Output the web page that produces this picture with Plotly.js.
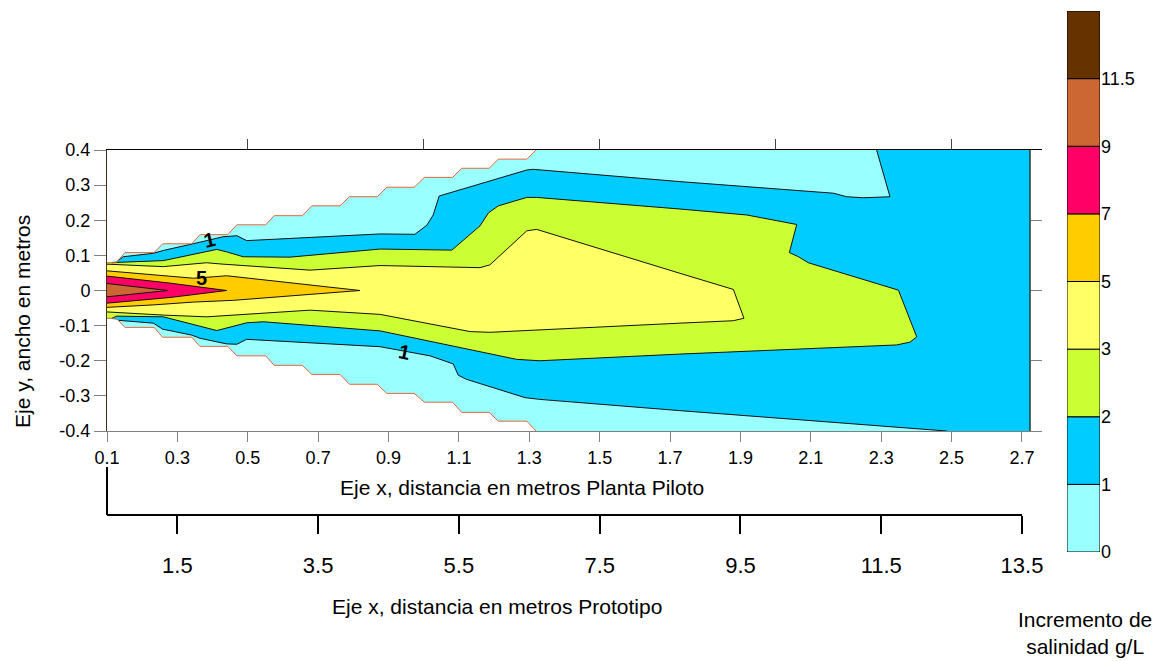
<!DOCTYPE html>
<html>
<head>
<meta charset="utf-8">
<script src="https://cdn.plot.ly/plotly-3.0.1.min.js"></script>
<style>html,body{margin:0;padding:0;background:#fff;}#chart{width:1162px;height:661px;}</style>
</head>
<body>
<div id="chart"></div>
<script>
// ---------------- DATA ----------------
// stair-stepped boundary of the computed domain
const stairX = [0.1,0.126,0.151,0.234,0.258,0.341,0.364,0.443,0.469,0.551,0.575,0.655,0.682,0.762,0.789,0.868,0.895,0.973,1.002,1.082,1.108,1.186,1.212,1.293,1.319];
const stairUpperY = [0.079,0.079,0.108,0.108,0.133,0.133,0.159,0.159,0.187,0.187,0.213,0.213,0.241,0.241,0.267,0.267,0.294,0.294,0.322,0.322,0.348,0.348,0.374,0.374,0.4];
const stairLowerY = [-0.079,-0.079,-0.105,-0.105,-0.133,-0.133,-0.159,-0.159,-0.186,-0.186,-0.213,-0.213,-0.239,-0.239,-0.267,-0.267,-0.293,-0.293,-0.318,-0.318,-0.347,-0.347,-0.372,-0.372,-0.4];
const domainRightX = 2.723;
const domainTopY = 0.4;
const domainBottomY = -0.4;

// contour 1 g/L (upper branch ends on the top edge, lower branch on the bottom edge)
const c1UpperX = [0.130,0.146,0.232,0.260,0.345,0.393,0.430,0.469,0.497,0.876,0.975,1.009,1.027,1.044,1.293,1.311,1.728,2.164,2.202,2.249,2.325,2.287];
const c1UpperY = [0.084,0.096,0.106,0.114,0.133,0.145,0.153,0.156,0.142,0.161,0.160,0.186,0.215,0.269,0.343,0.345,0.310,0.277,0.267,0.264,0.267,0.4];
const c1LowerX = [0.134,0.232,0.258,0.341,0.364,0.440,0.469,0.497,0.876,1.018,1.084,1.098,1.122,1.288,1.330,1.728,2.486];
const c1LowerY = [-0.085,-0.093,-0.110,-0.127,-0.136,-0.152,-0.153,-0.139,-0.160,-0.186,-0.209,-0.241,-0.253,-0.305,-0.310,-0.342,-0.4];

// contour 2 g/L
const c2X = [0.114,0.128,0.260,0.336,0.412,0.440,0.487,0.620,0.876,1.080,1.160,1.184,1.212,1.293,1.321,1.728,1.918,2.060,2.039,2.065,2.093,2.349,2.401,2.382,2.344,1.728,1.330,1.264,0.876,0.544,0.497,0.412,0.260,0.128,0.114];
const c2Y = [0.079,0.080,0.085,0.101,0.117,0.110,0.096,0.095,0.118,0.115,0.184,0.221,0.241,0.265,0.265,0.232,0.215,0.188,0.108,0.096,0.079,0.001,-0.132,-0.147,-0.155,-0.181,-0.200,-0.196,-0.115,-0.089,-0.092,-0.114,-0.075,-0.073,-0.079];

// contour 3 g/L
const c3X = [0.1,0.260,0.383,0.430,0.677,0.876,1.160,1.188,1.293,1.321,1.728,1.880,1.910,1.880,1.728,1.188,1.132,0.876,0.677,0.452,0.383,0.260,0.1];
const c3Y = [0.075,0.068,0.079,0.075,0.058,0.071,0.065,0.073,0.170,0.174,0.049,0.003,-0.079,-0.086,-0.093,-0.119,-0.117,-0.068,-0.056,-0.070,-0.075,-0.070,-0.061];

// contour 5 g/L
const c5X = [0.1,0.232,0.345,0.402,0.440,0.819,0.459,0.345,0.232,0.1];
const c5Y = [0.056,0.044,0.035,0.039,0.042,0.0,-0.028,-0.033,-0.041,-0.048];

// contour 7 g/L
const c7X = [0.1,0.279,0.440,0.279,0.1];
const c7Y = [0.041,0.021,0.0,-0.020,-0.036];

// contour 9 g/L
const c9X = [0.1,0.273,0.1];
const c9Y = [0.020,0.0,-0.018];

// contour labels
const contourLabels = [
  {text:'1', x:0.390, y:0.144, angle:-14},
  {text:'5', x:0.369, y:0.037, angle:0},
  {text:'1', x:0.944, y:-0.174, angle:12}
];

// colour scale levels
const levelLabels = ['0','1','2','3','5','7','9','11.5'];
const levelColors = ['#99FFFF','#00CCFF','#CCFF33','#FFFF66','#FFCC00','#FF0066','#CC6633','#663300'];

// axes ticks
const xTickVals = [0.1,0.3,0.5,0.7,0.9,1.1,1.3,1.5,1.7,1.9,2.1,2.3,2.5,2.7];
const xTickText = ['0.1','0.3','0.5','0.7','0.9','1.1','1.3','1.5','1.7','1.9','2.1','2.3','2.5','2.7'];
const yTickVals = [0.4,0.3,0.2,0.1,0,-0.1,-0.2,-0.3,-0.4];
const yTickText = ['0.4','0.3','0.2','0.1','0','-0.1','-0.2','-0.3','-0.4'];
const topTickVals = [0.5,1.0,1.5,2.0,2.5];
const rightTickVals = [-0.4,-0.2,0,0.2,0.4];
const protoTickVals = [1.5,3.5,5.5,7.5,9.5,11.5,13.5];
const protoTickText = ['1.5','3.5','5.5','7.5','9.5','11.5','13.5'];
const xRange = [0.1, 2.757];
const protoRange = [0.5, 13.5];

// ---------------- BUILD ----------------
const rev = a => a.slice().reverse();
const leftX = stairX[0];
const fillTrace = (xs, ys, color) => ({
  type:'scatter', mode:'lines', x:xs, y:ys, fill:'toself', fillcolor:color,
  line:{width:0, color:color}, hoverinfo:'skip', xaxis:'x', yaxis:'y'
});
const lineTrace = (xs, ys, color, w) => ({
  type:'scatter', mode:'lines', x:xs, y:ys, line:{width:w||1, color:color||'#111'},
  hoverinfo:'skip', xaxis:'x', yaxis:'y'
});

// domain (> 0)
const domX = stairX.concat([domainRightX, domainRightX], rev(stairX));
const domY = stairUpperY.concat([domainTopY, domainBottomY], rev(stairLowerY));
// > 1
const r1X = c1UpperX.concat([domainRightX, domainRightX], rev(c1LowerX), [leftX, leftX]);
const r1Y = c1UpperY.concat([domainTopY, domainBottomY], rev(c1LowerY), [stairLowerY[0], stairUpperY[0]]);
// > 2
const r2X = c2X.concat([leftX, leftX]);
const r2Y = c2Y.concat([stairLowerY[0], stairUpperY[0]]);

const traces = [
  fillTrace(domX, domY, levelColors[0]),
  fillTrace(r1X, r1Y, levelColors[1]),
  fillTrace(r2X, r2Y, levelColors[2]),
  fillTrace(c3X, c3Y, levelColors[3]),
  fillTrace(c5X, c5Y, levelColors[4]),
  fillTrace(c7X, c7Y, levelColors[5]),
  fillTrace(c9X, c9Y, levelColors[6]),
  lineTrace(c1UpperX, c1UpperY),
  lineTrace(c1LowerX, c1LowerY),
  lineTrace(c2X, c2Y),
  lineTrace(c3X, c3Y),
  lineTrace(c5X, c5Y),
  lineTrace(c7X, c7Y),
  lineTrace(c9X, c9Y),
  lineTrace(stairX, stairUpperY, '#E8663A', 1),
  lineTrace(stairX, stairLowerY, '#E8663A', 1),
  lineTrace([domainRightX, domainRightX], [domainTopY, domainBottomY], '#111', 1.2),
  // invisible carriers for the extra axes
  {type:'scatter', mode:'markers', x:protoTickVals, y:protoTickVals.map(()=>0), xaxis:'x2', yaxis:'y',
   marker:{opacity:0}, hoverinfo:'skip'},
  {type:'scatter', mode:'markers', x:topTickVals, y:topTickVals.map(()=>0), xaxis:'x4', yaxis:'y4',
   marker:{opacity:0}, hoverinfo:'skip'},
  // colour bar
  {type:'bar', x:levelLabels.map(()=>0), y:levelLabels.map(()=>1), base:levelLabels.map((_,i)=>i),
   width:1, marker:{color:levelColors, line:{color:'#000', width:1}}, xaxis:'x3', yaxis:'y3', hoverinfo:'skip'}
];

// pixel helpers for layout positions (plot area: x 107..1112, y 10..561)
const PL=107, PW=1005, PT=10, PH=551;
const px = v => (v-PL)/PW;
const py = v => (PT+PH-v)/PH;

const FONT = 'Liberation Sans, Arial, sans-serif';

const ann = (x, y, text, extra) => Object.assign({
  xref:'paper', yref:'paper', x:px(x), y:py(y), text:text, showarrow:false,
  xanchor:'center', yanchor:'middle', font:{family:FONT, size:21, color:'#000'}
}, extra||{});

const annotations = [
  ann(522, 487, 'Eje x, distancia en metros Planta Piloto'),
  ann(496.5, 606, 'Eje x, distancia en metros Prototipo'),
  ann(22, 322, 'Eje y, ancho en metros', {textangle:-90}),
  ann(1085, 633, 'Incremento de<br>salinidad g/L', {align:'center'})
].concat(contourLabels.map(l => ({
  xref:'x', yref:'y', x:l.x, y:l.y, text:'<b>'+l.text+'</b>', textangle:l.angle, showarrow:false,
  xanchor:'center', yanchor:'middle', font:{family:FONT, size:20, color:'#000'}
})));

const layout = {
  width:1162, height:661,
  margin:{l:PL, r:1162-PL-PW, t:PT, b:661-PT-PH, pad:0},
  paper_bgcolor:'#fff', plot_bgcolor:'rgba(0,0,0,0)',
  showlegend:false, hovermode:false,
  font:{family:FONT, size:18, color:'#000'},
  xaxis:{domain:[0, px(1042)], range:xRange, anchor:'y', tickvals:xTickVals, ticktext:xTickText,
    ticks:'outside', ticklen:10, tickcolor:'#808080', showline:true, linecolor:'#808080', linewidth:1,
    showgrid:false, zeroline:false, tickfont:{family:FONT, size:18}},
  yaxis:{domain:[py(431), py(150)], range:[-0.4,0.4], anchor:'x', tickvals:yTickVals, ticktext:yTickText,
    ticks:'outside', ticklen:12, tickcolor:'#808080', showline:true, linecolor:'#4a2a20', linewidth:1,
    showgrid:false, zeroline:false, tickfont:{family:FONT, size:18}},
  xaxis4:{overlaying:'x', side:'top', anchor:'y', range:xRange, tickvals:topTickVals, showticklabels:false,
    ticks:'outside', ticklen:10, tickcolor:'#444', showline:true, linecolor:'#000', linewidth:1,
    showgrid:false, zeroline:false},
  yaxis4:{overlaying:'y', side:'right', anchor:'x', range:[-0.4,0.4], tickvals:rightTickVals, showticklabels:false,
    ticks:'inside', ticklen:11, tickcolor:'#808080', showline:false, showgrid:false, zeroline:false},
  xaxis2:{domain:[0, px(1022)], anchor:'free', position:py(515), range:protoRange,
    tickvals:protoTickVals, ticktext:protoTickText, ticks:'outside', ticklen:18, tickwidth:2, tickcolor:'#000',
    showline:true, linecolor:'#000', linewidth:2, showgrid:false, zeroline:false, ticklabelstandoff:13,
    tickfont:{family:FONT, size:22}},
  xaxis3:{domain:[px(1067), px(1100)], anchor:'y3', range:[-0.5,0.5], visible:false, fixedrange:true},
  yaxis3:{domain:[py(552), py(11)], anchor:'x3', side:'right', range:[0, levelLabels.length],
    tickvals:levelLabels.map((_,i)=>i), ticktext:levelLabels, ticks:'', showline:false, showgrid:false,
    zeroline:false, tickfont:{family:FONT, size:18}},
  shapes:[
    {type:'line', xref:'paper', yref:'paper', x0:0, x1:0, y0:py(515), y1:py(467), line:{color:'#000', width:2}}
  ],
  annotations:annotations
};

Plotly.newPlot('chart', traces, layout, {staticPlot:true, displayModeBar:false});
</script>
</body>
</html>
